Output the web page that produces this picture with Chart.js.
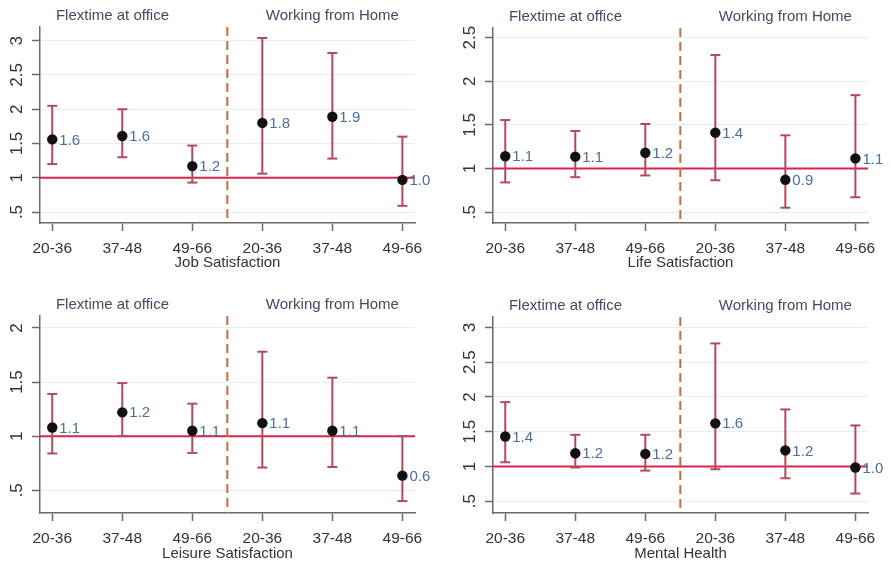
<!DOCTYPE html>
<html>
<head>
<meta charset="utf-8">
<script src="https://cdn.jsdelivr.net/npm/chart.js@4"></script>
<style>
  html, body { margin: 0; padding: 0; background: #ffffff; }
  #wrap { position: relative; width: 891px; height: 564px; overflow: hidden; background: #fff; }
  .panel { position: absolute; }
</style>
</head>
<body>
<div id="wrap">
  <div class="panel" style="left:0px;top:0px;"><canvas id="c1" width="445" height="283"></canvas></div>
  <div class="panel" style="left:445px;top:0px;"><canvas id="c2" width="446" height="283"></canvas></div>
  <div class="panel" style="left:0px;top:283px;"><canvas id="c3" width="445" height="281"></canvas></div>
  <div class="panel" style="left:445px;top:283px;"><canvas id="c4" width="446" height="281"></canvas></div>
</div>
<script>
// ---------------- DATA ----------------
const ageGroups = ['20-36', '37-48', '49-66'];
const categories = [...ageGroups, ...ageGroups];
const groupTitles = ['Flextime at office', 'Working from Home'];

const jobEst    = [1.56, 1.61, 1.17, 1.80, 1.89, 0.97];
const jobLo     = [1.20, 1.30, 0.93, 1.06, 1.28, 0.59];
const jobHi     = [2.05, 2.00, 1.47, 3.04, 2.82, 1.60];
const jobLabels = ['1.6', '1.6', '1.2', '1.8', '1.9', '1.0'];

const lifeEst    = [1.14, 1.135, 1.18, 1.41, 0.87, 1.115];
const lifeLo     = [0.84, 0.90, 0.92, 0.865, 0.55, 0.67];
const lifeHi     = [1.555, 1.43, 1.51, 2.30, 1.38, 1.84];
const lifeLabels = ['1.1', '1.1', '1.2', '1.4', '0.9', '1.1'];

const leisEst    = [1.08, 1.22, 1.05, 1.12, 1.05, 0.635];
const leisLo     = [0.84, 1.00, 0.845, 0.71, 0.715, 0.40];
const leisHi     = [1.39, 1.49, 1.30, 1.78, 1.54, 1.00];
const leisLabels = ['1.1', '1.2', '1.1', '1.1', '1.1', '0.6'];

const mentEst    = [1.43, 1.19, 1.18, 1.62, 1.23, 0.985];
const mentLo     = [1.06, 0.985, 0.94, 0.96, 0.83, 0.61];
const mentHi     = [1.925, 1.455, 1.455, 2.77, 1.82, 1.59];
const mentLabels = ['1.4', '1.2', '1.2', '1.6', '1.2', '1.0'];

const yTicks3   = [0.5, 1, 1.5, 2, 2.5, 3];
const yLabels3  = ['.5', '1', '1.5', '2', '2.5', '3'];
const yTicks25  = [0.5, 1, 1.5, 2, 2.5];
const yLabels25 = ['.5', '1', '1.5', '2', '2.5'];
const yTicks2   = [0.5, 1, 1.5, 2];
const yLabels2  = ['.5', '1', '1.5', '2'];

const referenceValue = 1;
const dividerPosition = 2.5;

// ---------------- STYLE ----------------
const FONT = 'Liberation Sans, Arial, Helvetica, sans-serif';
const C_TICK = '#333333';
const C_AXIS = '#6a6a6a';
const C_GRID = '#e6eef1';
const C_CI = '#b24a5c';
const C_REF = '#d92350';
const C_DASH = '#c66c3c';
const C_VAL = '#4b6f9c';
const C_TITLE = '#3e4c68';

const overlayPlugin = {
  id: 'overlay',
  beforeDatasetsDraw(chart) {
    const {ctx, chartArea, scales: {x, y}} = chart;
    ctx.save();
    const yr = y.getPixelForValue(referenceValue);
    ctx.strokeStyle = C_REF;
    ctx.lineWidth = 2;
    ctx.beginPath();
    ctx.moveTo(chartArea.left, yr);
    ctx.lineTo(chartArea.right, yr);
    ctx.stroke();
    const xd = x.getPixelForValue(dividerPosition);
    ctx.strokeStyle = C_DASH;
    ctx.setLineDash([9, 5]);
    ctx.beginPath();
    ctx.moveTo(xd, chartArea.top);
    ctx.lineTo(xd, chartArea.bottom);
    ctx.stroke();
    ctx.restore();
  },
  afterDatasetsDraw(chart, args, opts) {
    const {ctx, chartArea, scales: {x, y}} = chart;
    ctx.save();
    ctx.font = '15px ' + FONT;
    ctx.textBaseline = 'middle';
    ctx.textAlign = 'left';
    ctx.fillStyle = C_VAL;
    opts.est.forEach((v, i) => {
      ctx.fillText(opts.labels[i], x.getPixelForValue(i) + 7, y.getPixelForValue(v) + 1);
    });
    ctx.textAlign = 'center';
    ctx.fillStyle = C_TITLE;
    ctx.fillText(groupTitles[0], x.getPixelForValue(0.86), chartArea.top - 11);
    ctx.fillText(groupTitles[1], x.getPixelForValue(4.0), chartArea.top - 11);
    ctx.restore();
  }
};

function ciData(lo, hi) {
  const out = [];
  lo.forEach((l, i) => {
    out.push({x: i, y: l});
    out.push({x: i, y: hi[i]});
    out.push({x: i, y: null});
  });
  return out;
}

function makePanel(id, est, lo, hi, labels, title, yMin, yMax, yTicks, yLabels, geo) {
  new Chart(document.getElementById(id), {
    type: 'scatter',
    data: {
      datasets: [
        {
          data: est.map((v, i) => ({x: i, y: v})),
          pointRadius: 5.2,
          pointHoverRadius: 5.2,
          pointBackgroundColor: '#111111',
          pointBorderColor: '#111111',
          pointBorderWidth: 0,
          showLine: false
        },
        {
          data: ciData(lo, hi),
          showLine: true,
          spanGaps: false,
          borderColor: C_CI,
          borderWidth: 2,
          pointStyle: 'line',
          pointRadius: 5,
          pointHoverRadius: 5,
          pointBorderColor: C_CI,
          pointBorderWidth: 2
        }
      ]
    },
    options: {
      responsive: false,
      animation: false,
      events: [],
      layout: { padding: { left: 0, top: geo.top, right: geo.right, bottom: geo.bottom } },
      plugins: {
        legend: { display: false },
        tooltip: { enabled: false },
        overlay: { est: est, labels: labels }
      },
      scales: {
        x: {
          type: 'linear',
          min: -0.175,
          max: 5.18,
          afterBuildTicks: (s) => { s.ticks = categories.map((c, i) => ({value: i})); },
          afterFit: (s) => { s.height = geo.xh; },
          ticks: {
            callback: (v, i) => categories[i],
            color: C_TICK,
            font: { family: FONT, size: 15.5 },
            padding: 8,
            maxRotation: 0,
            autoSkip: false
          },
          grid: { drawOnChartArea: false, tickLength: 8, tickColor: C_AXIS, tickWidth: 1.5 },
          border: { color: C_AXIS, width: 1.5 },
          title: {
            display: true,
            text: title,
            color: C_TICK,
            font: { family: FONT, size: 15 },
            padding: { top: 0, bottom: 0 }
          }
        },
        y: {
          type: 'linear',
          min: yMin,
          max: yMax,
          afterBuildTicks: (s) => { s.ticks = yTicks.map(v => ({value: v})); },
          afterFit: (s) => { s.width = geo.left; },
          ticks: {
            callback: (v, i) => yLabels[i],
            color: C_TICK,
            font: { family: FONT, size: 17 },
            minRotation: 90,
            maxRotation: 90,
            crossAlign: 'center',
            padding: 3,
            autoSkip: false
          },
          grid: { color: C_GRID, lineWidth: 1, tickLength: 8, tickColor: C_AXIS, tickWidth: 1.5 },
          border: { color: C_AXIS, width: 1.5 }
        }
      }
    },
    plugins: [overlayPlugin]
  });
}

makePanel('c1', jobEst, jobLo, jobHi, jobLabels, 'Job Satisfaction', 0.34, 3.2, yTicks3, yLabels3,
  { left: 40, top: 27, right: 30, bottom: 11, xh: 49 });
makePanel('c2', lifeEst, lifeLo, lifeHi, lifeLabels, 'Life Satisfaction', 0.375, 2.61, yTicks25, yLabels25,
  { left: 48, top: 28, right: 23, bottom: 11, xh: 49 });
makePanel('c3', leisEst, leisLo, leisHi, leisLabels, 'Leisure Satisfaction', 0.29, 2.11, yTicks2, yLabels2,
  { left: 40, top: 33, right: 30, bottom: 1, xh: 50 });
makePanel('c4', mentEst, mentLo, mentHi, mentLabels, 'Mental Health', 0.33, 3.15, yTicks3, yLabels3,
  { left: 48, top: 34, right: 23, bottom: 1, xh: 50 });
</script>
</body>
</html>
